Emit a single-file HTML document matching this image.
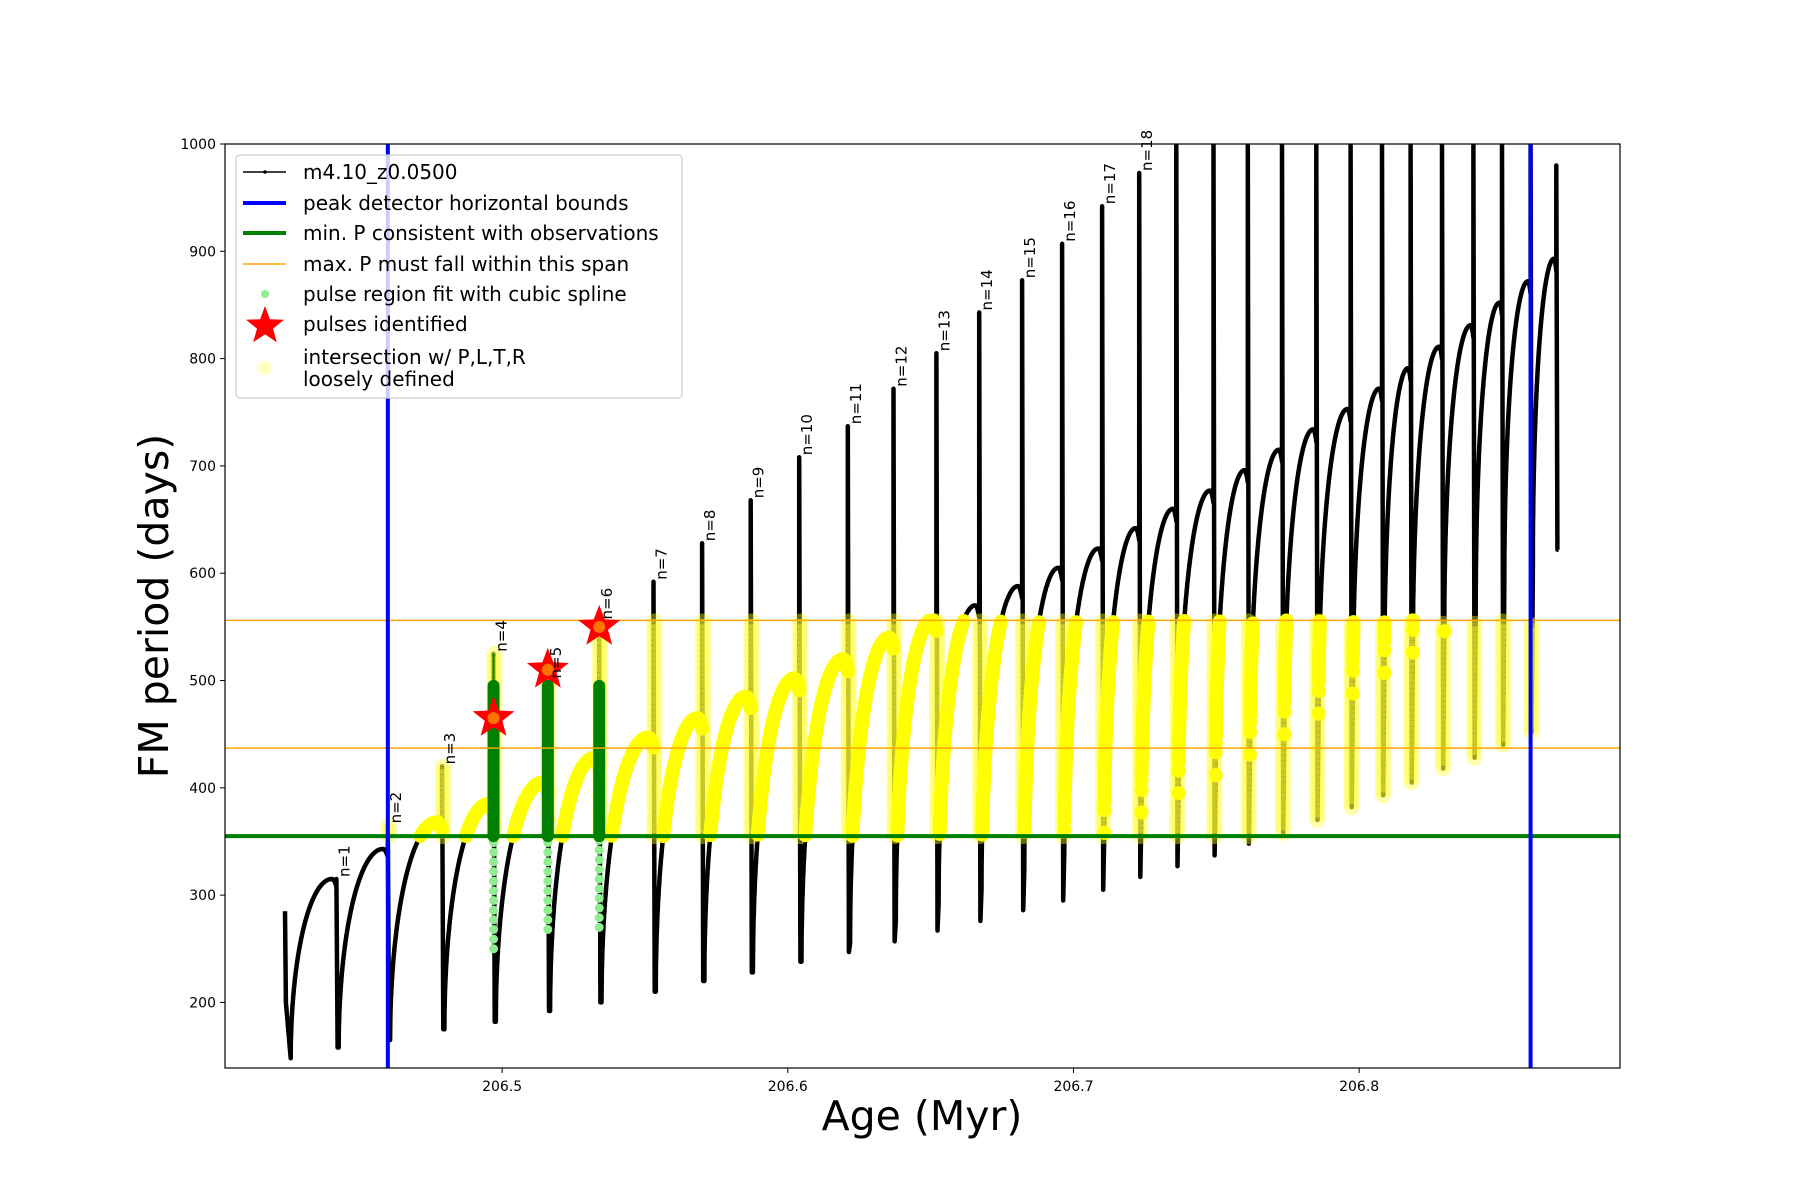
<!DOCTYPE html>
<html><head><meta charset="utf-8"><style>
html,body{margin:0;padding:0;background:#fff;}
svg{display:block;font-family:"DejaVu Sans","Liberation Sans",sans-serif;}
</style></head><body>
<svg id="chart" width="1800" height="1200" viewBox="0 0 1800 1200">
<defs><clipPath id="plotclip"><rect x="225" y="144" width="1395" height="924"/></clipPath></defs>
<rect x="0" y="0" width="1800" height="1200" fill="#fff"/>
<g id="plot" clip-path="url(#plotclip)"></g>
<g id="labels"></g>
<rect x="225" y="144" width="1395" height="924" fill="none" stroke="#000" stroke-width="1.2"/>
<g id="axes"></g>
<text x="922" y="1130" font-size="41" text-anchor="middle">Age (Myr)</text>
<text transform="translate(168,606) rotate(-90)" font-size="41" text-anchor="middle">FM period (days)</text>
<g>
<rect x="236" y="155" width="446" height="243" rx="4" fill="#fff" fill-opacity="0.8" stroke="#ccc" stroke-width="1.2"/>
<g><line x1="243" y1="172" x2="286" y2="172" stroke="#000" stroke-width="1.5"/><circle cx="265" cy="172" r="1.8"/><text x="303" y="179" font-size="20">m4.10_z0.0500</text></g>
<g><line x1="243" y1="203" x2="286" y2="203" stroke="#00f" stroke-width="4"/><text x="303" y="210" font-size="20">peak detector horizontal bounds</text></g>
<g><line x1="243" y1="233" x2="286" y2="233" stroke="#008000" stroke-width="4"/><text x="303" y="240" font-size="20">min. P consistent with observations</text></g>
<g><line x1="243" y1="264" x2="286" y2="264" stroke="#ffa500" stroke-width="1.5"/><text x="303" y="271" font-size="20">max. P must fall within this span</text></g>
<g><circle cx="265" cy="294" r="4" fill="#90ee90"/><text x="303" y="301" font-size="20">pulse region fit with cubic spline</text></g>
<g><polygon id="legstar" fill="#f00"/><text x="303" y="331" font-size="20">pulses identified</text></g>
<g><circle cx="265" cy="368" r="7" fill="#ffff99" fill-opacity="0.6"/><text x="303" y="364" font-size="20">intersection w/ P,L,T,R</text><text x="303" y="386" font-size="20">loosely defined</text></g>
</g>
</svg>
<script>
// ---- data ----
const pulseN     = [1,2,3,4,5,6,7,8,9,10,11,12,13,14,15,16,17,18,19,20,21,22,23,24,25,26,27,28,29,30,31];
const pulseAge   = [206.442,206.460,206.479,206.497,206.516,206.534,206.553,206.570,206.587,206.604,206.621,206.637,206.652,206.667,206.682,206.696,206.710,206.723,206.736,206.749,206.761,206.773,206.785,206.797,206.808,206.818,206.829,206.840,206.850,206.860,206.869];
const preMax     = [315,343,368,385,405,428,447,465,485,502,520,540,557,570,588,605,623,642,660,677,696,715,734,753,772,791,811,831,852,872,893];
const spikeTop   = [315,365,420,525,500,555,592,628,668,708,737,772,805,843,873,907,942,973,1000,1000,1000,1000,1000,1000,1000,1000,1000,1000,1000,1000,980];
const dipMin     = [158,165,175,182,192,200,210,220,228,238,247,257,267,276,286,295,305,317,327,337,348,358,370,382,393,405,418,428,440,452,622];
const riseStart  = [158,165,175,182,192,200,210,220,228,238,255,275,292,305,323,340,358,377,395,412,431,450,469,488,507,526,546,566,587,609,622];
const startAge = 206.424, startVal = 285, firstMinAge = 206.426, firstMin = 148;
const greenPulses = [4,5,6];
const greenTop    = [495,495,495];
const greenLow    = [250,268,270];
const starAge  = [206.497,206.516,206.534];
const starVal  = [465,510,550];
const minP = 355, maxPLow = 437, maxPHigh = 556;
const boundAges = [206.460,206.860];
const xTicks = [206.5,206.6,206.7,206.8];
const yTicks = [200,300,400,500,600,700,800,900,1000];
const labelCount = 18;

const X0=225,X1=1620,Y0=144,Y1=1068, xmin=206.403,xmax=206.8913,ymin=138.9,ymax=1000;
const X=a=>X0+(a-xmin)/(xmax-xmin)*(X1-X0);
const Y=v=>Y1-(v-ymin)/(ymax-ymin)*(Y1-Y0);
const NS="http://www.w3.org/2000/svg";
function mk(tag,attrs,parent){const e=document.createElementNS(NS,tag);for(const k in attrs)e.setAttribute(k,attrs[k]);parent.appendChild(e);return e;}
const plot=document.getElementById('plot'), axes=document.getElementById('axes'), labels=document.getElementById('labels');

const rising=[]; const verticals=[];
function riseSeg(a0,v0,a1,v1){const pts=[];const N=400;const fp=0.9;
  for(let i=0;i<=N;i++){const f=i/N;let s;
    if(f<=fp){const g=f/fp;s=Math.sqrt(1-(1-g)*(1-g));}
    else{const g=(f-fp)/(1-fp);s=1-0.04*g*g;}
    pts.push([a0+(a1-a0)*f, v0+(v1-v0)*s]);}
  return pts;}
let path=[[startAge,startVal],[startAge+0.0003,200]];
let seg=riseSeg(firstMinAge,firstMin,pulseAge[0],preMax[0]);rising.push(seg);path=path.concat(seg);
for(let i=0;i<pulseAge.length;i++){
  const t=pulseAge[i];
  path.push([t,spikeTop[i]]);path.push([t+0.0004,dipMin[i]]);path.push([t+0.0008,riseStart[i]]);
  verticals.push({age:t,lo:dipMin[i],hi:spikeTop[i]});
  if(i+1<pulseAge.length){seg=riseSeg(t+0.0008,riseStart[i],pulseAge[i+1],preMax[i+1]);rising.push(seg);path=path.concat(seg);}
}
const line=mk('polyline',{points:path.map(p=>X(p[0]).toFixed(1)+','+Y(p[1]).toFixed(1)).join(' '),fill:'none',stroke:'#000','stroke-width':'4.5','stroke-linejoin':'round'},plot);



const yg=mk('g',{},plot);


verticals.forEach((v,i)=>{if(pulseN[i]<2)return;for(let val=Math.max(v.lo,minP);val<=Math.min(v.hi,maxPHigh);val+=5){mk('circle',{cx:X(v.age+0.0003).toFixed(1),cy:Y(val).toFixed(1),r:8,fill:'#ffff33','fill-opacity':0.4},yg);}});
rising.forEach(s=>{let lx=-99,ly=-99;s.forEach(p=>{if(p[1]>=minP&&p[1]<=maxPHigh){const x=X(p[0]),y=Y(p[1]);if(Math.hypot(x-lx,y-ly)>=2){mk('circle',{cx:x.toFixed(1),cy:y.toFixed(1),r:7,fill:'#ffff00'},yg);lx=x;ly=y;}}});});

greenPulses.forEach((n,k)=>{const t=pulseAge[n-1];
  const g=mk('g',{},plot);
  
  
  for(let v=greenLow[k];v<minP;v+=9)mk('circle',{cx:X(t),cy:Y(v),r:4.5,fill:'#90ee90'},g);
  mk('line',{x1:X(t),x2:X(t),y1:Y(minP),y2:Y(greenTop[k]),stroke:'#008000','stroke-width':12,'stroke-linecap':'round'},g);
  if(n===4)mk('line',{x1:X(t),x2:X(t),y1:Y(greenTop[k]),y2:Y(spikeTop[n-1]),stroke:'#008000','stroke-width':2},g);
});

[[minP,'#008000',4,'min-p-line'],[maxPLow,'#ffa500',1.5,'max-p-lower-line'],[maxPHigh,'#ffa500',1.5,'max-p-upper-line']].forEach(h=>{
  const l=mk('line',{x1:X0,x2:X1,y1:Y(h[0]),y2:Y(h[0]),stroke:h[1],'stroke-width':h[2]},plot);
  
  
});
boundAges.forEach((a,i)=>{
  const l=mk('line',{x1:X(a),x2:X(a),y1:Y0,y2:Y1,stroke:'#0000ff','stroke-width':4},plot);
  
  
});

function starPts(cx,cy,R){const r=R*0.42;let s=[];for(let i=0;i<10;i++){const a=-Math.PI/2+i*Math.PI/5;const rr=i%2?r:R;s.push((cx+rr*Math.cos(a)).toFixed(1)+','+(cy+rr*Math.sin(a)).toFixed(1));}return s.join(' ');}
starAge.forEach((a,i)=>{
  const s=mk('polygon',{points:starPts(X(a),Y(starVal[i]),22),fill:'#ff0000'},plot);
  
  
  mk('circle',{cx:X(a),cy:Y(starVal[i]),r:6,fill:'#ffa500','fill-opacity':0.7},plot);
});
document.getElementById('legstar').setAttribute('points',starPts(265,326,20));

for(let i=0;i<labelCount;i++){
  const x=X(pulseAge[i])+13, y=Y(spikeTop[i])-2;
  const t=mk('text',{transform:`translate(${x.toFixed(1)},${y.toFixed(1)}) rotate(-90)`,'font-size':15},labels);
  t.textContent='n='+pulseN[i];
  
  
}

xTicks.forEach(v=>{
  mk('line',{x1:X(v),x2:X(v),y1:Y1,y2:Y1+5,stroke:'#000','stroke-width':1},axes);
  const t=mk('text',{x:X(v),y:Y1+23,'font-size':14,'text-anchor':'middle'},axes);
  t.textContent=v.toFixed(1);
  
  
});
yTicks.forEach(v=>{
  mk('line',{x1:X0-5,x2:X0,y1:Y(v),y2:Y(v),stroke:'#000','stroke-width':1},axes);
  const t=mk('text',{x:X0-9,y:Y(v)+5,'font-size':14,'text-anchor':'end'},axes);
  t.textContent=v;
  
  
});
</script>
</body></html>
